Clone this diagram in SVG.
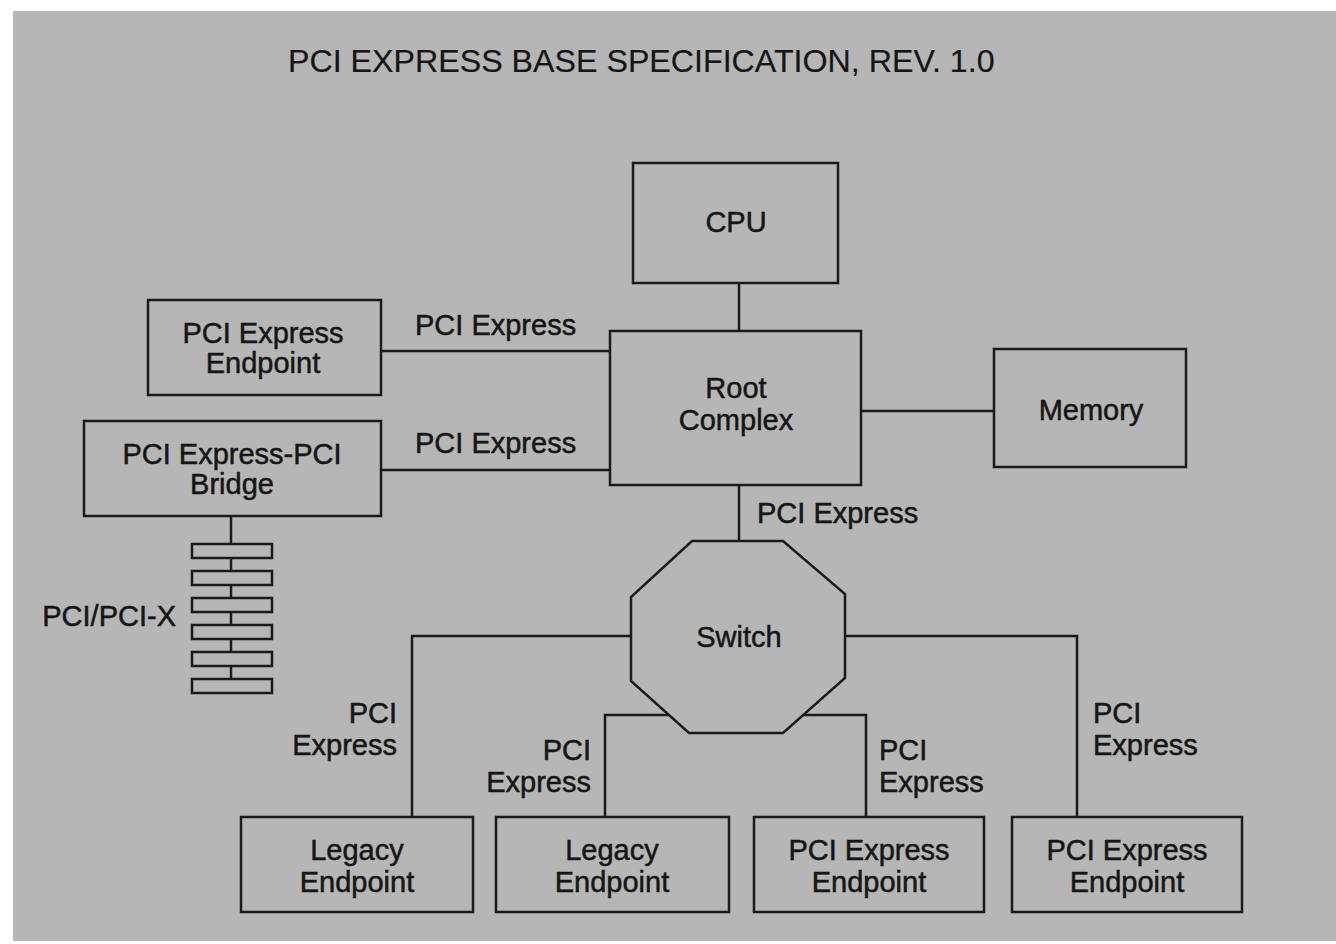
<svg xmlns="http://www.w3.org/2000/svg" width="1336" height="944" viewBox="0 0 1336 944">
<style>
.box{fill:#b6b6b6;stroke:#1a1a1a;stroke-width:2.5}
.ln{fill:none;stroke:#1a1a1a;stroke-width:2.5}
text{font-family:"Liberation Sans",Arial,sans-serif;font-size:29px;fill:#151515;stroke:#151515;stroke-width:0.5}
.title{font-size:32.2px;stroke-width:0.2}
.c{text-anchor:middle}
.e{text-anchor:end}
</style>
<rect width="1336" height="944" fill="#ffffff"/>
<rect x="13" y="11" width="1323" height="930" fill="#b6b6b6"/>
<text class="title" x="288" y="72">PCI EXPRESS BASE SPECIFICATION, REV. 1.0</text>
<g id="connectors">
<line class="ln" x1="739" y1="283" x2="739" y2="331"/>
<line class="ln" x1="381" y1="351" x2="610" y2="351"/>
<line class="ln" x1="381" y1="470" x2="610" y2="470"/>
<line class="ln" x1="861" y1="411" x2="994" y2="411"/>
<line class="ln" x1="739" y1="485" x2="739" y2="541"/>
<polyline class="ln" points="631,636 412,636 412,817"/>
<polyline class="ln" points="845,636 1077,636 1077,817"/>
<polyline class="ln" points="669,715 605,715 605,817"/>
<polyline class="ln" points="803,715 866,715 866,817"/>
<line class="ln" x1="231" y1="516" x2="231" y2="679"/>
<text x="415" y="335">PCI Express</text>
<text x="415" y="453">PCI Express</text>
<text x="757" y="523">PCI Express</text>
<text class="e" x="397" y="723">PCI</text>
<text class="e" x="397" y="755">Express</text>
<text class="e" x="591" y="760">PCI</text>
<text class="e" x="591" y="792">Express</text>
<text x="879" y="760">PCI</text>
<text x="879" y="792">Express</text>
<text x="1093" y="723">PCI</text>
<text x="1093" y="755">Express</text>
</g>
<g id="cpu"><rect class="box" x="633" y="163" width="205" height="120"/><text class="c" x="736" y="232">CPU</text></g>
<g id="root"><rect class="box" x="610" y="331" width="251" height="154"/><text class="c" x="736" y="398">Root</text><text class="c" x="736" y="430">Complex</text></g>
<g id="memory"><rect class="box" x="994" y="349" width="192" height="118"/><text class="c" x="1091" y="420">Memory</text></g>
<g id="ep-top"><rect class="box" x="148" y="300" width="233" height="95"/><text class="c" x="263" y="343">PCI Express</text><text class="c" x="263" y="373">Endpoint</text></g>
<g id="bridge"><rect class="box" x="84" y="421" width="297" height="95"/><text class="c" x="232" y="464">PCI Express-PCI</text><text class="c" x="232" y="494">Bridge</text></g>
<g id="pci-bus">
<rect class="box" x="192" y="544" width="80" height="14"/>
<rect class="box" x="192" y="571" width="80" height="14"/>
<rect class="box" x="192" y="598" width="80" height="14"/>
<rect class="box" x="192" y="625" width="80" height="14"/>
<rect class="box" x="192" y="652" width="80" height="14"/>
<rect class="box" x="192" y="679" width="80" height="14"/>
<text class="e" x="176" y="626">PCI/PCI-X</text>
</g>
<g id="switch"><polygon class="box" points="692,541 783,541 845,594 845,678 783,733 689,733 631,681 631,597"/><text class="c" x="739" y="647">Switch</text></g>
<g id="legacy1"><rect class="box" x="241" y="817" width="232" height="95"/><text class="c" x="357" y="860">Legacy</text><text class="c" x="357" y="892">Endpoint</text></g>
<g id="legacy2"><rect class="box" x="496" y="817" width="233" height="95"/><text class="c" x="612" y="860">Legacy</text><text class="c" x="612" y="892">Endpoint</text></g>
<g id="ep3"><rect class="box" x="754" y="817" width="230" height="95"/><text class="c" x="869" y="860">PCI Express</text><text class="c" x="869" y="892">Endpoint</text></g>
<g id="ep4"><rect class="box" x="1012" y="817" width="230" height="95"/><text class="c" x="1127" y="860">PCI Express</text><text class="c" x="1127" y="892">Endpoint</text></g>
</svg>
